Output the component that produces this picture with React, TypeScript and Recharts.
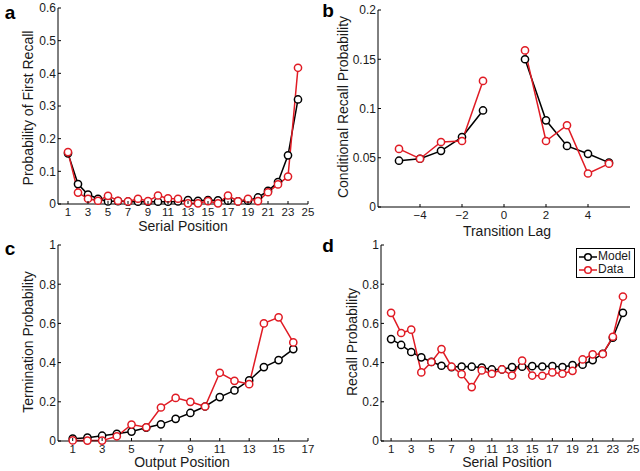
import React from "react";
import { Legend, Line, LineChart, XAxis, YAxis } from "recharts";

// values
const serialPositions = [1, 2, 3, 4, 5, 6, 7, 8, 9, 10, 11, 12, 13, 14, 15, 16, 17, 18, 19, 20, 21, 22, 23, 24];
const firstRecallModel = [0.155, 0.061, 0.029, 0.016, 0.008, 0.009, 0.007, 0.007, 0.007, 0.007, 0.007, 0.008, 0.012, 0.01, 0.012, 0.011, 0.01, 0.008, 0.01, 0.02, 0.04, 0.067, 0.149, 0.32];
const firstRecallData = [0.159, 0.035, 0.016, 0.01, 0.025, 0.01, 0.008, 0.016, 0.009, 0.026, 0.017, 0.016, 0.002, 0.002, 0.009, 0.002, 0.026, 0.008, 0.016, 0.009, 0.036, 0.06, 0.084, 0.417];

const lags = [-5, -4, -3, -2, -1, 0, 1, 2, 3, 4, 5];
const crpModel = [0.047, 0.049, 0.057, 0.071, 0.098, null, 0.15, 0.088, 0.062, 0.054, 0.045];
const crpData = [0.059, 0.049, 0.066, 0.067, 0.128, null, 0.159, 0.067, 0.083, 0.034, 0.044];

const outputPositions = [1, 2, 3, 4, 5, 6, 7, 8, 9, 10, 11, 12, 13, 14, 15, 16];
const terminationModel = [0.012, 0.017, 0.027, 0.037, 0.048, 0.068, 0.085, 0.113, 0.143, 0.176, 0.224, 0.258, 0.309, 0.377, 0.413, 0.469];
const terminationData = [0.003, 0.002, 0.002, 0.024, 0.084, 0.07, 0.171, 0.22, 0.2, 0.176, 0.348, 0.307, 0.29, 0.6, 0.631, 0.503];

const recallModel = [0.52, 0.49, 0.454, 0.427, 0.404, 0.384, 0.377, 0.38, 0.379, 0.375, 0.365, 0.365, 0.377, 0.379, 0.382, 0.38, 0.382, 0.377, 0.387, 0.389, 0.413, 0.445, 0.527, 0.654];
const recallData = [0.654, 0.551, 0.568, 0.35, 0.403, 0.469, 0.379, 0.341, 0.275, 0.36, 0.343, 0.365, 0.334, 0.41, 0.334, 0.333, 0.35, 0.343, 0.358, 0.416, 0.442, 0.444, 0.532, 0.737];

const serialTicks = [1, 3, 5, 7, 9, 11, 13, 15, 17, 19, 21, 23, 25];
const lagTicks = [-4, -2, 0, 2, 4];
const outputTicks = [1, 3, 5, 7, 9, 11, 13, 15, 17];
const firstRecallTicks = [0, 0.1, 0.2, 0.3, 0.4, 0.5, 0.6];
const crpTicks = [0, 0.05, 0.1, 0.15, 0.2];
const unitTicks = [0, 0.2, 0.4, 0.6, 0.8, 1];
const legendOrder = ["Model", "Data"];

const FONT = '"Liberation Sans", Arial, Helvetica, sans-serif';
const MODEL = "#000000";
const DATA = "#e01b24";
const TEXT = "#1a1a1a";
const TICK_GAP = 4;
const TICK_LEN = 3;

const fmtNum = (v: number) => (v < 0 ? "\u2212" + Math.abs(v) : String(v));

function BottomTick(props: any) {
  const { x, y, payload } = props;
  return (
    <g>
      <line x1={x} x2={x} y1={y - TICK_GAP} y2={y - TICK_GAP - TICK_LEN} stroke="#000" />
      <text x={x} y={y} dy="0.72em" textAnchor="middle" fontSize={11.5} fontFamily={FONT} fill={TEXT}>
        {fmtNum(payload.value)}
      </text>
    </g>
  );
}

function LeftTick(props: any) {
  const { x, y, payload } = props;
  return (
    <g>
      <line x1={x + 2} x2={x + 2 + TICK_LEN} y1={y} y2={y} stroke="#000" />
      <text x={x} y={y} dy="0.36em" textAnchor="end" fontSize={12} fontFamily={FONT} fill={TEXT}>
        {fmtNum(payload.value)}
      </text>
    </g>
  );
}

function LegendBox({ payload }: any) {
  const items = [...(payload || [])].sort(
    (a: any, b: any) => legendOrder.indexOf(a.value) - legendOrder.indexOf(b.value)
  );
  return (
    <div style={{ border: "1px solid #000", background: "#fff", padding: "1px 3px 1px 2px", fontFamily: FONT, fontSize: 12, color: TEXT, lineHeight: "13px" }}>
      {items.map((p: any) => (
        <div key={p.value} style={{ display: "flex", alignItems: "center" }}>
          <svg width={18} height={10} style={{ marginRight: 1 }}>
            <line x1={0} x2={18} y1={5} y2={5} stroke={p.color} strokeWidth={1.5} />
            <circle cx={9} cy={5} r={3.3} fill="#fff" stroke={p.color} strokeWidth={1.5} />
          </svg>
          <span>{p.value}</span>
        </div>
      ))}
    </div>
  );
}

type PanelProps = {
  left: number;
  top: number;
  width: number;
  height: number;
  margin: { top: number; right: number; bottom: number; left: number };
  yWidth: number;
  xHeight: number;
  rows: any[];
  xDomain: [number, number];
  xTicks: number[];
  yDomain: [number, number];
  yTicks: number[];
  legend?: boolean;
};

function Panel(p: PanelProps) {
  const dot = (c: string) => ({ r: 3.6, fill: "#fff", stroke: c, strokeWidth: 1.5 });
  return (
    <div style={{ position: "absolute", left: p.left, top: p.top }}>
      <LineChart width={p.width} height={p.height} data={p.rows} margin={p.margin}>
        <XAxis
          dataKey="x"
          type="number"
          domain={p.xDomain}
          ticks={p.xTicks}
          interval={0}
          height={p.xHeight}
          tickSize={0}
          tickMargin={TICK_GAP}
          tickLine={false}
          axisLine={{ stroke: "#000", strokeWidth: 1 }}
          tick={(t: any) => <BottomTick {...t} />}
        />
        <YAxis
          type="number"
          domain={p.yDomain}
          ticks={p.yTicks}
          interval={0}
          width={p.yWidth}
          tickSize={0}
          tickMargin={2}
          tickLine={false}
          axisLine={{ stroke: "#000", strokeWidth: 1 }}
          tick={(t: any) => <LeftTick {...t} />}
        />
        {p.legend && (
          <Legend
            layout="vertical"
            align="center"
            verticalAlign="middle"
            wrapperStyle={{ top: 18, left: 256, width: "auto", height: "auto" }}
            content={(lp: any) => <LegendBox {...lp} />}
          />
        )}
        <Line dataKey="model" name="Model" stroke={MODEL} strokeWidth={1.5} dot={dot(MODEL)} activeDot={false} isAnimationActive={false} />
        <Line dataKey="data" name="Data" stroke={DATA} strokeWidth={1.5} dot={dot(DATA)} activeDot={false} isAnimationActive={false} />
      </LineChart>
    </div>
  );
}

function Txt({ x, y, children, size = 14, bold = false, rotate = false }: any) {
  const style: React.CSSProperties = {
    position: "absolute",
    left: x,
    top: y,
    transform: rotate ? "translate(-50%, -50%) rotate(-90deg)" : "translate(-50%, -50%)",
    whiteSpace: "nowrap",
    fontFamily: FONT,
    fontSize: size,
    fontWeight: bold ? 700 : 400,
    lineHeight: 1,
    color: bold ? "#000" : TEXT,
  };
  return <div style={style}>{children}</div>;
}

const zip = (xs: number[], m: (number | null)[], d: (number | null)[]) =>
  xs.map((x, i) => ({ x, model: m[i], data: d[i] }));

export default function App() {
  return (
    <div style={{ position: "absolute", left: 0, top: 0, width: 640, height: 471, background: "#fff", overflow: "hidden" }}>
      <Panel
        left={0}
        top={0}
        width={320}
        height={230}
        margin={{ top: 8, right: 12, bottom: 0, left: 0 }}
        yWidth={58}
        xHeight={26}
        rows={zip(serialPositions, firstRecallModel, firstRecallData)}
        xDomain={[0, 25]}
        xTicks={serialTicks}
        yDomain={[0, 0.6]}
        yTicks={firstRecallTicks}
      />
      <Panel
        left={320}
        top={0}
        width={320}
        height={230}
        margin={{ top: 10, right: 10, bottom: 0, left: 0 }}
        yWidth={58}
        xHeight={23}
        rows={zip(lags, crpModel, crpData)}
        xDomain={[-6, 6]}
        xTicks={lagTicks}
        yDomain={[0, 0.2]}
        yTicks={crpTicks}
      />
      <Panel
        left={0}
        top={230}
        width={320}
        height={241}
        margin={{ top: 15, right: 12, bottom: 0, left: 0 }}
        yWidth={58}
        xHeight={30}
        rows={zip(outputPositions, terminationModel, terminationData)}
        xDomain={[0, 17]}
        xTicks={outputTicks}
        yDomain={[0, 1]}
        yTicks={unitTicks}
      />
      <Panel
        left={320}
        top={230}
        width={320}
        height={241}
        margin={{ top: 15, right: 7, bottom: 0, left: 0 }}
        yWidth={61}
        xHeight={30}
        rows={zip(serialPositions, recallModel, recallData)}
        xDomain={[0, 25]}
        xTicks={serialTicks}
        yDomain={[0, 1]}
        yTicks={unitTicks}
        legend
      />

      <Txt x={10} y={12} size={19} bold>a</Txt>
      <Txt x={328} y={10} size={19} bold>b</Txt>
      <Txt x={10} y={248} size={19} bold>c</Txt>
      <Txt x={328} y={245} size={19} bold>d</Txt>

      <Txt x={183} y={226}>Serial Position</Txt>
      <Txt x={507} y={231}>Transition Lag</Txt>
      <Txt x={182} y={462}>Output Position</Txt>
      <Txt x={507} y={462}>Serial Position</Txt>

      <Txt x={28} y={108} rotate>Probability of First Recall</Txt>
      <Txt x={343} y={107} rotate>Conditional Recall Probability</Txt>
      <Txt x={28} y={342} rotate>Termination Probability</Txt>
      <Txt x={352} y={342} rotate>Recall Probability</Txt>
    </div>
  );
}
